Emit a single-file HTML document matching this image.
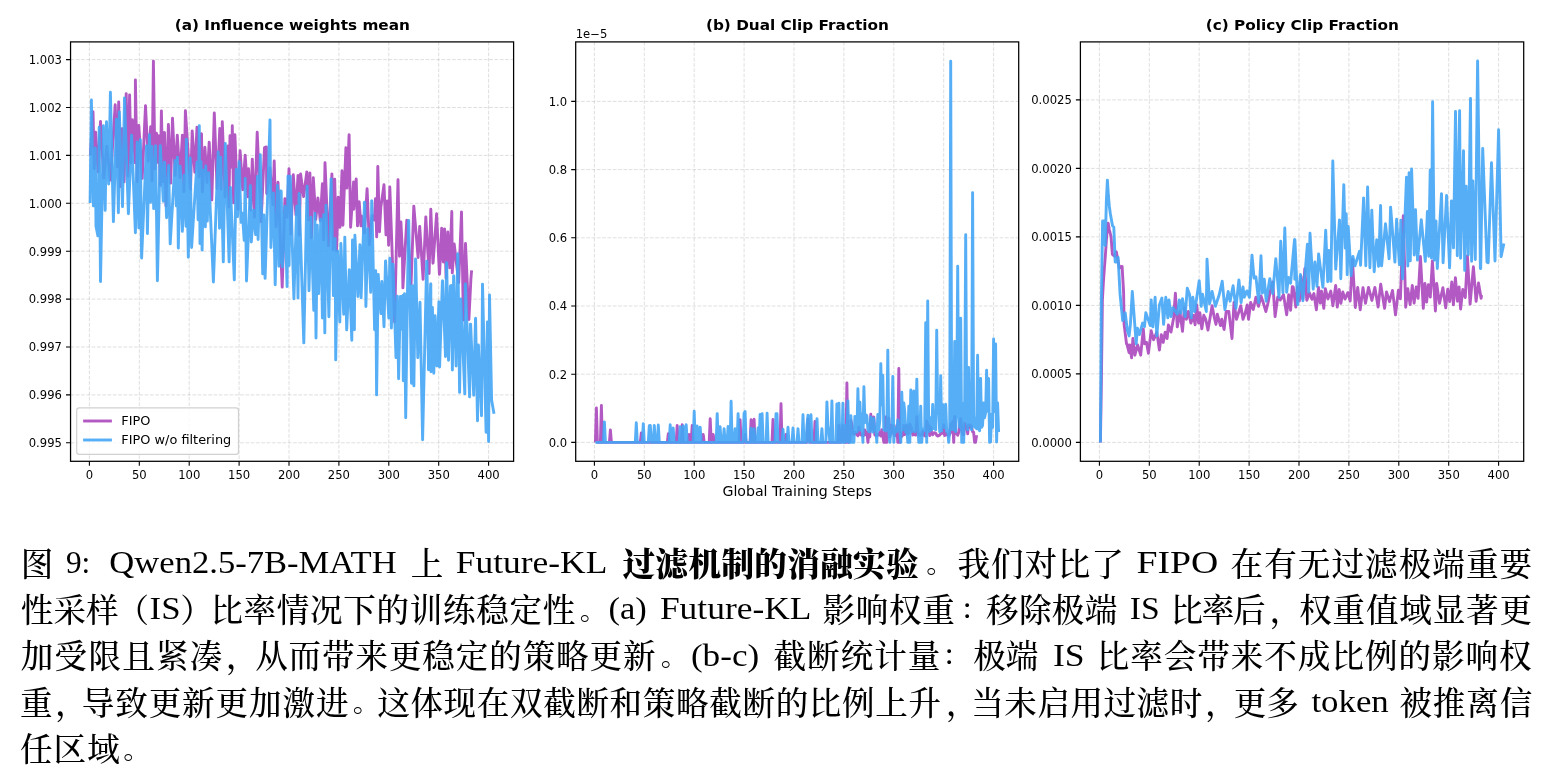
<!DOCTYPE html>
<html lang="zh-CN"><head><meta charset="utf-8"><title>Figure 9</title>
<style>
html,body{margin:0;padding:0;background:#fff;}
body{width:1554px;height:782px;position:relative;overflow:hidden;}
</style></head><body>
<svg width="1554" height="500" viewBox="0 0 1554 500" style="position:absolute;left:0;top:0">
<g font-family="'DejaVu Sans', 'Liberation Sans', sans-serif" font-size="11.6" fill="#000">
<path d="M89.4 41.9V461.3M139.3 41.9V461.3M189.2 41.9V461.3M239.1 41.9V461.3M289 41.9V461.3M338.9 41.9V461.3M388.8 41.9V461.3M438.7 41.9V461.3M488.6 41.9V461.3M70.5 59.6H513.6M70.5 107.5H513.6M70.5 155.4H513.6M70.5 203.3H513.6M70.5 251.2H513.6M70.5 299.1H513.6M70.5 347H513.6M70.5 394.9H513.6M70.5 442.8H513.6" stroke="#b0b0b0" stroke-opacity="0.4" stroke-width="1" stroke-dasharray="3.7 1.6" fill="none"/>
<clipPath id="c0"><rect x="70.5" y="41.9" width="443.1" height="419.4"/></clipPath>
<g clip-path="url(#c0)">
<polyline points="90.4,155.3 93,111.6 94.3,168.6 95.6,132.2 98.1,171.8 100.5,121.5 103.8,178.1 106.8,146.2 110.4,180.1 115.2,104.8 117.2,166.9 118.7,101.9 120.2,186.5 122,128.6 124.1,181.9 126.2,93.6 127.9,176.2 129.6,94.9 131,162.7 132.3,119.6 135.2,162.7 135.4,80 137.2,181.5 138.8,125.4 142.2,178.4 145.5,105.7 148.2,161.2 150.7,126.7 152,180.7 153.4,61.1 155,169 156.5,133.1 157.7,162.2 159,135.7 160.2,185.2 161.4,110.9 162.9,181.8 164.5,132.5 166,205.7 168.4,124.5 170.7,183.1 172.5,118.3 175.2,175.4 177.3,135.3 180,177.6 182.4,135.1 183.9,191.6 185.4,110.6 190.5,189.1 192.2,130.9 194.8,172.2 197,127.1 199,177 201.5,133.8 202.4,191.7 204.9,147.2 207,182.3 209.2,142.1 211.8,200 214.3,112.9 217.1,188.5 219.8,128.4 221.1,189.1 222.3,121.7 225.1,197 227.8,146 228.9,207.1 230,135.7 231.7,167.2 232.3,125.8 233.6,202.9 234.9,134.8 237.8,209.2 240.1,150.8 242.7,189.7 245.2,155.2 247.8,196.8 248.5,168.7 250.7,210.2 252.3,159.1 254.5,217.2 257.2,132.2 261.1,221.6 264.5,147.7 266.4,146.9 266.7,193.6 269.9,167.7 272.9,204.5 274.2,161 276,226.7 278,182.2 282.2,287.1 284.9,198.6 287,217.2 289,168.8 290.9,234.1 293.3,174.8 295.9,214.9 298,175.5 299.3,235.1 300.6,173.9 303.6,196.5 306.8,171.9 308.3,220.1 309.9,172.9 311.4,237.7 313.3,177.6 315.8,219.4 317.9,198 320.3,220.7 322.4,183.8 323.7,239.9 325,162.6 328.4,245.6 331.9,173.9 333.3,249.7 334.7,179.1 336.5,251.1 338.2,197.1 340,227.3 342,170.7 342.9,225.3 345.9,147.8 346.9,188.1 349.1,134.7 350.6,227.2 353.6,181.9 353.8,209.2 356.2,178.9 357.5,225.9 359.2,201.8 360.9,225.9 361.5,216 364.4,233 367.1,188.7 369.4,244.7 372.1,215.8 374.4,220.1 375.5,198.6 376.7,236.9 377.8,166.4 379.5,231.7 380.8,207.4 384,184.7 386,234.9 387.3,201 388.6,245.2 389.8,187 394.6,322 398,179.7 399.5,256.2 400.9,222 402.4,251.7 402.9,287.9 406.8,220.2 411.1,283.8 413.8,206.1 418.1,257.5 419.7,226.4 423.1,279.3 425.8,216.9 429.1,273.5 430.8,209.2 432.9,263.2 433.1,262.8 436.6,213.8 439.4,274.2 439.6,273.7 441.7,228.1 443.3,262 444.6,229 446.1,278.2 447.8,231.9 449.7,267.8 451.8,211.5 452.3,272.9 454.2,243.9 458.7,282.6 461.5,211.9 463.4,320 465.5,243.5 468.9,319.5 470.9,279 471.6,270.4" fill="none" stroke="#AB47BC" stroke-width="2.9" stroke-linejoin="round" stroke-opacity="0.9"/>
<polyline points="90.1,203.1 91.4,100 93.4,205.9 95.3,147.9 96,226.3 97.9,235.9 99.2,127.2 100.5,281.6 103.4,125.8 105.2,210.4 106.5,121.7 108.7,184 110.4,92.3 113.4,221.6 116.5,119.1 118.4,212.8 119.3,111.9 122.5,206.6 124.5,98 128.4,213.8 131.6,135.3 135.4,232.7 137.2,142.1 138.8,227.9 140.3,139.7 141.6,258.1 146.5,145.7 147.4,233.6 149.4,134.8 150.6,202.4 151.9,146.4 153.7,208.6 155.6,145.7 157.4,280.7 160.3,145.7 163.3,201.2 164.5,162.3 166.6,217.8 168.6,165.5 170.2,243.9 175.1,160.4 176.3,205.9 177.4,157.1 178.3,248.1 180.2,166.1 182.4,231.4 184,175.3 186,226.3 186.4,139.3 188.3,257.2 190.2,157.9 191.6,247.5 197,162.3 198.1,219.8 199.3,125.8 200,243.6 201,161.8 202.1,250.1 203.5,170.1 205.4,226.9 205.7,165.9 207.3,221.1 208.6,172.6 213.4,282 218.2,152 219.5,228.2 220.7,157.1 223.3,261.9 225.3,143.5 229.1,261.9 230.4,187.4 234.3,279.9 236.2,169.4 237.5,216.6 239.2,161.6 241,222.4 242.4,213.3 244.2,240.4 245.2,178.4 246.5,281 250.4,185.5 251.3,242 253.6,210.3 255.6,234.6 257.5,176.4 258.1,239.5 260.3,154.8 262.7,273.9 263.9,214.9 265.1,278.4 270,120 270.9,247.5 273.4,192.9 275.2,284.8 277.4,185.5 278.9,266.3 280.6,190.9 280.9,262.3 281.2,191.2 282.5,266.8 284.8,206.2 287.1,286.6 288,176.1 289.1,265.6 290.3,176.1 293.9,298.8 296.7,206.3 298,298.1 299.1,193.5 303.8,342.9 307.1,186.1 309,290.8 310.9,217.3 313.8,310.4 314.9,213.4 316,338 317.3,225.1 318.6,293.6 320.8,219 322.4,318.1 323.7,214.7 324.8,332.9 326,205.3 328.9,316.8 331.1,178.9 333.4,295.6 335.1,238.4 335.7,359.9 337.6,251.1 339.8,322 340.9,243.5 343.7,314.2 344.8,237.1 346.7,329.9 349.3,269.6 351.8,340.2 352.5,240 354.4,329.7 354.9,235.2 357.9,296.5 359.9,244.8 361.1,297.8 364.5,202.2 364.7,202.3 365.9,306.5 367.9,228.7 370.7,292.4 371.7,200.8 371.8,200.7 374.6,329.7 375.7,270.6 376.6,394.9 378.2,274.4 381,313.6 381.9,281.5 384,326.8 385.5,261.1 385.6,260.9 388.8,318.1 389.8,258.3 390.1,258.9 391.4,328 392.8,264.1 393,264.3 396,357.6 397.3,296.3 398.6,378.8 400.4,296.4 401.6,329.4 402.9,295.4 403.3,380.8 404.5,293.8 405.7,417.8 408.5,221.3 408.7,220.5 411.5,383.3 412.7,285.8 413.9,385.9 415.5,259 415.7,259.4 417.8,357.6 420,302.2 422.6,439.7 426.7,261.1 426.9,261.5 428.5,369.7 430.6,284.2 430.8,283.8 431,371.8 432.4,307.5 433.8,373.3 435.1,315.8 436.9,366 438.9,301.6 439.6,367 442.4,281.3 442.6,280.8 445.5,356.6 446.5,262.6 446.7,263 448.5,360.3 450.4,286 451.2,285.5 452.4,370.1 453.6,276.1 453.8,275.9 456.1,366 457.7,253.8 457.9,254 459.6,392.4 460.9,299 464.8,393.9 465.3,284.2 465.5,283.8 469.6,396.9 470.4,324.1 470.6,324.1 473.7,395.2 475.5,318.5 475.6,318.3 477.5,420.7 478.4,345 481.5,415.8 482.5,284.1 486.1,432.3 487.4,322 488.6,441.5 489.5,295 491.6,400 494,413.7" fill="none" stroke="#42A5F5" stroke-width="2.9" stroke-linejoin="round" stroke-opacity="0.9"/>
</g>
<path d="M89.4 461.3v4.5M139.3 461.3v4.5M189.2 461.3v4.5M239.1 461.3v4.5M289 461.3v4.5M338.9 461.3v4.5M388.8 461.3v4.5M438.7 461.3v4.5M488.6 461.3v4.5M70.5 59.6h-4.5M70.5 107.5h-4.5M70.5 155.4h-4.5M70.5 203.3h-4.5M70.5 251.2h-4.5M70.5 299.1h-4.5M70.5 347h-4.5M70.5 394.9h-4.5M70.5 442.8h-4.5" stroke="#000" stroke-width="1.1" fill="none"/>
<rect x="70.55" y="41.9" width="443.05" height="419.4" fill="none" stroke="#000" stroke-width="1.25"/>
<text x="89.4" y="478.8" text-anchor="middle">0</text>
<text x="139.3" y="478.8" text-anchor="middle">50</text>
<text x="189.2" y="478.8" text-anchor="middle">100</text>
<text x="239.1" y="478.8" text-anchor="middle">150</text>
<text x="289" y="478.8" text-anchor="middle">200</text>
<text x="338.9" y="478.8" text-anchor="middle">250</text>
<text x="388.8" y="478.8" text-anchor="middle">300</text>
<text x="438.7" y="478.8" text-anchor="middle">350</text>
<text x="488.6" y="478.8" text-anchor="middle">400</text>
<text x="61.9" y="63.9" text-anchor="end">1.003</text>
<text x="61.9" y="111.8" text-anchor="end">1.002</text>
<text x="61.9" y="159.7" text-anchor="end">1.001</text>
<text x="61.9" y="207.6" text-anchor="end">1.000</text>
<text x="61.9" y="255.5" text-anchor="end">0.999</text>
<text x="61.9" y="303.4" text-anchor="end">0.998</text>
<text x="61.9" y="351.3" text-anchor="end">0.997</text>
<text x="61.9" y="399.2" text-anchor="end">0.996</text>
<text x="61.9" y="447.1" text-anchor="end">0.995</text>
<text transform="translate(292.3 29.8) scale(1.093 1)" text-anchor="middle" font-weight="bold" font-size="14">(a) Influence weights mean</text>
<path d="M594.4 41.9V461.3M644.3 41.9V461.3M694.2 41.9V461.3M744.1 41.9V461.3M794 41.9V461.3M843.9 41.9V461.3M893.8 41.9V461.3M943.7 41.9V461.3M993.6 41.9V461.3M575.7 442.4H1018.7M575.7 374.2H1018.7M575.7 306H1018.7M575.7 237.8H1018.7M575.7 169.6H1018.7M575.7 101.4H1018.7" stroke="#b0b0b0" stroke-opacity="0.4" stroke-width="1" stroke-dasharray="3.7 1.6" fill="none"/>
<clipPath id="c1"><rect x="575.7" y="41.9" width="443" height="419.4"/></clipPath>
<g clip-path="url(#c1)">
<polyline points="595.4,442.4 596.4,408 597.4,442.4 598.4,442.4 599.4,442.4 600.4,442.4 601.4,405.5 602.4,442.4 603.4,442.4 604.4,442.4 605.4,442.4 606.4,442.4 607.4,442.4 608.4,442.4 609.4,442.4 610.4,429.9 611.4,442.4 612.4,442.4 613.4,442.4 614.4,442.4 615.4,442.4 616.4,442.4 617.4,442.4 618.4,442.4 619.4,442.4 620.3,442.4 621.3,442.4 622.3,442.4 623.3,442.4 624.3,442.4 625.3,442.4 626.3,442.4 627.3,442.4 628.3,442.4 629.3,442.4 630.3,442.4 631.3,442.4 632.3,442.4 633.3,442.4 634.3,442.4 635.3,442.4 636.3,442.4 637.3,442.4 638.3,442.4 639.3,442.4 640.3,442.4 641.3,432.9 642.3,442.4 643.3,442.4 644.3,442.4 645.3,442.4 646.3,442.4 647.3,442.4 648.3,442.4 649.3,442.4 650.3,442.4 651.3,442.4 652.3,442.4 653.3,442.4 654.3,442.4 655.3,442.4 656.3,442.4 657.3,442.4 658.3,442.4 659.3,442.4 660.3,442.4 661.3,442.4 662.3,442.4 663.3,442.4 664.3,442.4 665.3,442.4 666.3,442.4 667.3,442.4 668.3,433.8 669.2,442.4 670.2,442.4 671.2,442.4 672.2,442.4 673.2,442.4 674.2,442.4 675.2,442.4 676.2,442.4 677.2,425.4 678.2,442.4 679.2,442.4 680.2,442.4 681.2,442.4 682.2,424.8 683.2,442.4 684.2,442.4 685.2,442.4 686.2,442.4 687.2,442.4 688.2,442.4 689.2,434.4 690.2,442.4 691.2,442.4 692.2,425.4 693.2,442.4 694.2,442.4 695.2,442.4 696.2,442.4 697.2,442.4 698.2,442.4 699.2,442.4 700.2,442.4 701.2,442.4 702.2,442.4 703.2,434.4 704.2,442.4 705.2,442.4 706.2,442.4 707.2,442.4 708.2,442.4 709.2,442.4 710.2,418.6 711.2,442.4 712.2,442.4 713.2,434.4 714.2,442.4 715.2,442.4 716.2,442.4 717.2,442.4 718.2,442.4 719.1,442.4 720.1,442.4 721.1,442.4 722.1,442.4 723.1,442.4 724.1,442.4 725.1,442.4 726.1,442.4 727.1,442.4 728.1,442.4 729.1,442.4 730.1,442.4 731.1,442.4 732.1,442.4 733.1,442.4 734.1,442.4 735.1,442.4 736.1,442.4 737.1,442.4 738.1,442.4 739.1,442.4 740.1,419.6 741.1,442.4 742.1,442.4 743.1,442.4 744.1,442.4 745.1,434.4 746.1,442.4 747.1,442.4 748.1,442.4 749.1,442.4 750.1,442.4 751.1,419.6 752.1,442.4 753.1,442.4 754.1,419.2 755.1,442.4 756.1,442.4 757.1,442.4 758.1,442.4 759.1,442.4 760.1,442.4 761.1,442.4 762.1,442.4 763.1,442.4 764.1,442.4 765.1,442.4 766.1,442.4 767.1,442.4 768.1,442.4 769,442.4 770,442.4 771,442.4 772,442.4 773,419.4 774,442.4 775,442.4 776,442.4 777,442.4 778,442.4 779,442.4 780,442.4 781,403.8 782,442.4 783,442.4 784,442.4 785,442.4 786,434.4 787,442.4 788,442.4 789,442.4 790,442.4 791,442.4 792,442.4 793,442.4 794,442.4 795,442.4 796,442.4 797,442.4 798,442.4 799,442.4 800,442.4 801,442.4 802,442.4 803,442.4 804,442.4 805,442.4 806,442.4 807,442.4 808,419 809,425.3 810,442.4 811,442.4 812,442.4 813,442.4 814,442.4 815,421.5 816,442.4 817,442.4 818,442.4 819,442.4 819.9,442.4 820.9,442.4 821.9,442.4 822.9,442.4 823.9,442.4 824.9,442.4 825.9,442.4 826.9,442.4 827.9,442.4 828.9,442.4 829.9,442.4 830.9,442.4 831.9,442.4 832.9,442.4 833.9,442.4 834.9,442.4 835.9,442.4 836.9,442.4 837.9,442.4 838.9,425.3 839.9,442.4 840.9,442.4 841.9,431.2 842.9,425.3 843.9,442.4 844.9,442.4 845.9,442.4 846.9,382.9 847.9,442.4 848.9,442.4 849.9,441.4 850.9,420.2 851.9,425.3 852.9,433.7 853.9,434.3 854.9,432.2 855.9,433.6 856.9,434.7 857.9,435.7 858.9,426.9 859.9,434.2 860.9,434.9 861.9,433.8 862.9,436.1 863.9,434.6 864.9,430 865.9,434.7 866.9,432.2 867.9,442.4 868.8,434.4 869.8,437 870.8,414.2 871.8,429.3 872.8,427.5 873.8,417 874.8,434.8 875.8,435.6 876.8,435 877.8,435.2 878.8,434.6 879.8,432.2 880.8,436.1 881.8,429.7 882.8,435.8 883.8,442.4 884.8,442.4 885.8,416.9 886.8,442.4 887.8,429.4 888.8,417.9 889.8,436.7 890.8,432.9 891.8,425.3 892.8,426.2 893.8,434.1 894.8,435.5 895.8,435.6 896.8,425.5 897.8,442.4 898.8,368.5 899.8,442.4 900.8,433.5 901.8,436.5 902.8,434.9 903.8,425.4 904.8,434.5 905.8,433 906.8,425.3 907.8,434.2 908.8,433 909.8,424 910.8,426.1 911.8,429 912.8,435 913.8,432.5 914.8,434.6 915.8,435.1 916.8,416.8 917.8,433.1 918.8,433.4 919.7,435.3 920.7,435.3 921.7,434.9 922.7,431.2 923.7,433.7 924.7,435.9 925.7,436 926.7,420.9 927.7,424.5 928.7,424.8 929.7,435.6 930.7,427.3 931.7,432.8 932.7,434.7 933.7,433 934.7,432.7 935.7,433.2 936.7,435.3 937.7,436 938.7,435.7 939.7,435.1 940.7,433.7 941.7,433.4 942.7,433.3 943.7,424.7 944.7,435.5 945.7,433 946.7,434.7 947.7,434.6 948.7,435.8 949.7,434.2 950.7,423.9 951.7,432.4 952.7,421.5 953.7,442.4 954.7,416.4 955.7,433 956.7,433.8 957.7,435.3 958.7,432.5 959.7,425.1 960.7,418.6 961.7,428.7 962.7,434.6 963.7,434.5 964.7,423.1 965.7,427.6 966.7,426.8 967.7,433.7 968.6,424.9 969.6,427.3 970.6,425 971.6,427.1 972.6,431.8 973.6,432.2 974.6,442.4 975.6,442.4 976.6,435.1" fill="none" stroke="#AB47BC" stroke-width="2.9" stroke-linejoin="round" stroke-opacity="0.9"/>
<polyline points="595.4,442.4 596.4,442.4 597.4,442.4 598.4,442.4 599.4,442.4 600.4,442.4 601.4,442.4 602.4,442.4 603.4,442.4 604.4,421.9 605.4,442.4 606.4,442.4 607.4,442.4 608.4,442.4 609.4,442.4 610.4,442.4 611.4,442.4 612.4,442.4 613.4,442.4 614.4,442.4 615.4,442.4 616.4,442.4 617.4,442.4 618.4,442.4 619.4,442.4 620.3,442.4 621.3,442.4 622.3,442.4 623.3,442.4 624.3,442.4 625.3,442.4 626.3,442.4 627.3,442.4 628.3,442.4 629.3,442.4 630.3,442.4 631.3,442.4 632.3,442.4 633.3,442.4 634.3,442.4 635.3,442.4 636.3,422.8 637.3,442.4 638.3,442.4 639.3,442.4 640.3,442.4 641.3,442.4 642.3,442.4 643.3,423.7 644.3,442.4 645.3,442.4 646.3,442.4 647.3,442.4 648.3,442.4 649.3,425.7 650.3,425.4 651.3,442.4 652.3,442.4 653.3,442.4 654.3,425.4 655.3,442.4 656.3,442.4 657.3,442.4 658.3,425 659.3,442.4 660.3,442.4 661.3,442.4 662.3,442.4 663.3,442.4 664.3,442.4 665.3,442.4 666.3,442.4 667.3,442.4 668.3,442.4 669.2,442.4 670.2,424.8 671.2,442.4 672.2,442.4 673.2,428 674.2,442.4 675.2,442.4 676.2,442.4 677.2,442.4 678.2,442.4 679.2,442.4 680.2,426.7 681.2,442.4 682.2,442.4 683.2,426 684.2,442.4 685.2,442.4 686.2,424.8 687.2,442.4 688.2,442.4 689.2,442.4 690.2,442.4 691.2,442.4 692.2,442.4 693.2,442.4 694.2,411.2 695.2,442.4 696.2,442.4 697.2,426 698.2,442.4 699.2,442.4 700.2,427.3 701.2,442.4 702.2,442.4 703.2,442.4 704.2,442.4 705.2,442.4 706.2,442.4 707.2,442.4 708.2,442.4 709.2,442.4 710.2,442.4 711.2,442.4 712.2,442.4 713.2,442.4 714.2,442.4 715.2,442.4 716.2,442.4 717.2,413.6 718.2,442.4 719.1,442.4 720.1,426.7 721.1,442.4 722.1,442.4 723.1,442.4 724.1,428.6 725.1,442.4 726.1,442.4 727.1,442.4 728.1,426.4 729.1,442.4 730.1,442.4 731.1,401.2 732.1,442.4 733.1,442.4 734.1,442.4 735.1,428.6 736.1,442.4 737.1,442.4 738.1,413.6 739.1,442.4 740.1,442.4 741.1,442.4 742.1,442.4 743.1,442.4 744.1,413.2 745.1,411.6 746.1,442.4 747.1,442.4 748.1,442.4 749.1,442.4 750.1,442.4 751.1,428.2 752.1,442.4 753.1,442.4 754.1,428.6 755.1,442.4 756.1,442.4 757.1,442.4 758.1,428 759.1,442.4 760.1,414.5 761.1,442.4 762.1,413.6 763.1,442.4 764.1,442.4 765.1,442.4 766.1,442.4 767.1,413.2 768.1,442.4 769,442.4 770,442.4 771,442.4 772,442.4 773,442.4 774,442.4 775,442.4 776,413.8 777,413.8 778,442.4 779,442.4 780,442.4 781,442.4 782,442.4 783,429.3 784,442.4 785,442.4 786,442.4 787,442.4 788,427.3 789,442.4 790,442.4 791,442.4 792,442.4 793,428 794,442.4 795,442.4 796,442.4 797,442.4 798,428.6 799,442.4 800,442.4 801,442.4 802,442.4 803,414.7 804,442.4 805,442.4 806,442.4 807,425.3 808,415.1 809,442.4 810,425.3 811,414.7 812,442.4 813,442.4 814,442.4 815,442.4 816,442.4 817,418.6 818,442.4 819,442.4 819.9,442.4 820.9,442.4 821.9,428.6 822.9,442.4 823.9,442.4 824.9,442.4 825.9,442.4 826.9,401.9 827.9,425.3 828.9,432.2 829.9,442.4 830.9,442.4 831.9,400.9 832.9,442.4 833.9,442.4 834.9,442.4 835.9,442.4 836.9,403.9 837.9,442.4 838.9,403.1 839.9,442.4 840.9,442.4 841.9,442.4 842.9,403.1 843.9,442.4 844.9,442.4 845.9,425.3 846.9,441.5 847.9,400.9 848.9,442.4 849.9,442.4 850.9,415.8 851.9,442.4 852.9,431.9 853.9,442.4 854.9,416.4 855.9,428.9 856.9,432.1 857.9,388.7 858.9,430 859.9,402.2 860.9,430.2 861.9,414.3 862.9,442.4 863.9,386.8 864.9,422.5 865.9,414.6 866.9,415.8 867.9,429.8 868.8,431.6 869.8,431.8 870.8,417 871.8,428.6 872.8,432.1 873.8,418.1 874.8,430.2 875.8,427.8 876.8,442.4 877.8,414.5 878.8,429.9 879.8,420.7 880.8,363.6 881.8,404.9 882.8,375.2 883.8,429.9 884.8,429.4 885.8,431 886.8,428.6 887.8,350.2 888.8,432 889.8,442.4 890.8,431.5 891.8,429.5 892.8,376.5 893.8,442.4 894.8,428.2 895.8,428.6 896.8,431.7 897.8,419.9 898.8,427.8 899.8,431.3 900.8,442.4 901.8,392.3 902.8,430 903.8,402.9 904.8,412.3 905.8,432.1 906.8,428.1 907.8,442.4 908.8,406.1 909.8,442.4 910.8,390 911.8,431.6 912.8,403.6 913.8,391 914.8,431.7 915.8,429 916.8,379.1 917.8,428.4 918.8,442.4 919.7,442.4 920.7,406.1 921.7,442.4 922.7,428.9 923.7,431 924.7,429 925.7,322.8 926.7,442.4 927.7,300.9 928.7,431.3 929.7,431.1 930.7,417.7 931.7,429.9 932.7,404.4 933.7,428.6 934.7,412.7 935.7,429.9 936.7,330.2 937.7,412.6 938.7,412.7 939.7,431.6 940.7,375.6 941.7,430.9 942.7,404.8 943.7,412.2 944.7,427.7 945.7,404.2 946.7,431.6 947.7,430.7 948.7,442.4 949.7,429.8 950.7,61.1 951.7,429.5 952.7,412.8 953.7,429.8 954.7,341.4 955.7,431.7 956.7,402.9 957.7,266.2 958.7,411.2 959.7,427.4 960.7,318.3 961.7,442.4 962.7,403.1 963.7,442.4 964.7,402.2 965.7,234.6 966.7,412 967.7,429.8 968.6,367.5 969.6,425.3 970.6,418.3 971.6,429.8 972.6,192.6 973.6,415.1 974.6,427.1 975.6,427.4 976.6,428.6 977.6,355.3 978.6,429.3 979.6,430.8 980.6,378.4 981.6,427.4 982.6,425.3 983.6,402.9 984.6,417.7 985.6,412.7 986.6,370.2 987.6,411 988.6,378.4 989.6,442.4 990.6,442 991.6,414.1 992.6,427.5 993.6,338.9 994.6,411.6 995.6,344 996.6,442 997.6,403 998.6,432" fill="none" stroke="#42A5F5" stroke-width="2.9" stroke-linejoin="round" stroke-opacity="0.9"/>
</g>
<path d="M594.4 461.3v4.5M644.3 461.3v4.5M694.2 461.3v4.5M744.1 461.3v4.5M794 461.3v4.5M843.9 461.3v4.5M893.8 461.3v4.5M943.7 461.3v4.5M993.6 461.3v4.5M575.7 442.4h-4.5M575.7 374.2h-4.5M575.7 306h-4.5M575.7 237.8h-4.5M575.7 169.6h-4.5M575.7 101.4h-4.5" stroke="#000" stroke-width="1.1" fill="none"/>
<rect x="575.7" y="41.9" width="443" height="419.4" fill="none" stroke="#000" stroke-width="1.25"/>
<text x="594.4" y="478.8" text-anchor="middle">0</text>
<text x="644.3" y="478.8" text-anchor="middle">50</text>
<text x="694.2" y="478.8" text-anchor="middle">100</text>
<text x="744.1" y="478.8" text-anchor="middle">150</text>
<text x="794" y="478.8" text-anchor="middle">200</text>
<text x="843.9" y="478.8" text-anchor="middle">250</text>
<text x="893.8" y="478.8" text-anchor="middle">300</text>
<text x="943.7" y="478.8" text-anchor="middle">350</text>
<text x="993.6" y="478.8" text-anchor="middle">400</text>
<text x="567.1" y="446.7" text-anchor="end">0.0</text>
<text x="567.1" y="378.5" text-anchor="end">0.2</text>
<text x="567.1" y="310.3" text-anchor="end">0.4</text>
<text x="567.1" y="242.1" text-anchor="end">0.6</text>
<text x="567.1" y="173.9" text-anchor="end">0.8</text>
<text x="567.1" y="105.7" text-anchor="end">1.0</text>
<text transform="translate(797.4 29.8) scale(1.093 1)" text-anchor="middle" font-weight="bold" font-size="14">(b) Dual Clip Fraction</text>
<path d="M1099.4 41.9V461.3M1149.3 41.9V461.3M1199.2 41.9V461.3M1249.1 41.9V461.3M1299 41.9V461.3M1348.9 41.9V461.3M1398.8 41.9V461.3M1448.7 41.9V461.3M1498.6 41.9V461.3M1080.4 442.4H1523.7M1080.4 373.9H1523.7M1080.4 305.4H1523.7M1080.4 236.9H1523.7M1080.4 168.4H1523.7M1080.4 99.9H1523.7" stroke="#b0b0b0" stroke-opacity="0.4" stroke-width="1" stroke-dasharray="3.7 1.6" fill="none"/>
<clipPath id="c2"><rect x="1080.4" y="41.9" width="443.3" height="419.4"/></clipPath>
<g clip-path="url(#c2)">
<polyline points="1100.4,442.4 1101.4,380 1102.4,300 1103.4,282 1104.4,268 1105.4,255 1106.4,240 1107.4,228 1108.2,223.2 1109.4,230 1111,236.5 1112.4,254.4 1114.4,256 1116.3,251.8 1119.4,268 1121.4,266.4 1122.1,266.4 1123.6,292.2 1124.1,324.4 1126.5,343.7 1126.8,343.7 1129.1,352.7 1129.4,352.7 1129.7,344.9 1131.6,357.8 1132.9,338.5 1134.9,355.2 1137.6,345 1140.7,355.2 1143.3,328.9 1144.5,343.7 1146.5,342.4 1148.4,353.3 1151.2,330.8 1153.6,339.8 1156.8,332.1 1159.4,350.1 1161.3,334.6 1163.2,342.4 1165.2,332.1 1167.1,338.5 1168.4,325 1171,332.1 1173.6,317.9 1175.4,293.2 1177.3,326.9 1179.9,311.5 1182.5,331.4 1184.4,307.6 1186.4,319.2 1188.3,311.5 1190.9,323.1 1193.4,315.3 1195.1,324.7 1196.7,305 1198.6,323.1 1199.9,312.8 1201.8,328.9 1203.8,315.3 1205.7,319.2 1208,330.1 1212.1,305.7 1214.1,316.6 1216,324.4 1217.3,314.1 1220.5,325.6 1221.8,319.2 1224.1,329.5 1226.2,311.5 1228.8,311.5 1232,338.5 1234,302.5 1236.5,319.2 1240.8,305.7 1243,319.2 1244.9,314.1 1247.2,305 1248.5,319.2 1250.7,302.5 1253.3,309.5 1255.9,297.3 1258.5,306.3 1261,296 1263.6,303.8 1265.9,311.5 1268.1,302.5 1270.1,292.2 1272.7,281.9 1275.1,316.6 1277.7,297.3 1280.3,299.9 1283.5,294.7 1286.7,314.7 1288.7,294.7 1290.6,310.2 1292.3,286.7 1293.2,287 1295.8,307.1 1297.3,287 1299.4,300.9 1300.9,276.4 1302.8,298.8 1304.8,268.7 1306.8,300.2 1309.5,293.1 1311.9,299.3 1313.9,293.5 1316.4,309.7 1318.5,287.5 1320.3,303.1 1321.6,291.2 1323.8,308.4 1325.3,288.7 1327.9,299 1330.8,291 1332.9,305.8 1335.7,285.5 1337.3,307.1 1339.2,289.5 1340.9,303.2 1342.8,291.9 1345,299.1 1347.8,292.7 1350.2,301 1352.4,259.1 1355.3,307.5 1357.7,287.4 1360.2,309.7 1363,287.7 1365.5,303.3 1368.5,287.4 1371.9,300.4 1374.9,287.4 1378.1,307 1380.7,284.2 1384.6,308.4 1386.5,291.9 1389.5,301.7 1392.5,290.4 1395.5,314.8 1398.4,290.3 1400.4,298.8 1403.3,215.7 1405.7,307.2 1407.8,288.7 1410.1,304.6 1412.3,285.5 1414.1,303 1416.3,286.9 1418.1,298.4 1420.4,256.5 1423.3,308.4 1424.9,283.4 1426.6,302.1 1428.3,284.8 1430.3,297.1 1432.4,261 1435.4,311 1436.7,283.5 1439.5,303.4 1442.9,287.7 1445.7,307.8 1447.7,289.3 1449.7,301.6 1451.8,281.9 1453.4,304.9 1455.4,277.7 1457.4,301.2 1459.1,286.9 1460.6,309 1462.8,289.5 1465.3,297.5 1467.4,255.9 1470.1,304.1 1473.4,266.8 1476.1,301.3 1478.5,282.9 1481.1,298.2 1481.6,295" fill="none" stroke="#AB47BC" stroke-width="2.9" stroke-linejoin="round" stroke-opacity="0.9"/>
<polyline points="1100.4,442.4 1101.4,300 1102.6,221 1104,221 1105.2,245.5 1106.4,200 1107.4,180.1 1108.4,196 1109.4,207 1110.4,214 1111.4,219.7 1112.6,226 1113.8,227 1115.2,262 1116.6,262 1118.1,257.4 1120.1,294.7 1122.7,320.5 1125.2,312.8 1127.3,330 1129.1,335.9 1130.4,324.4 1132.3,291.5 1136.2,343.7 1137.4,328.2 1139.4,334.6 1142.6,323.1 1144.5,326.5 1145.8,312.8 1150.3,325.6 1151.2,299.9 1152.9,326.9 1155.1,297.3 1156.8,335.9 1159.4,305 1161.9,298 1163.6,324.4 1165.8,297.3 1167.8,317.9 1169,299.9 1171,316.6 1172.9,307.6 1177.3,314.1 1179.3,299.9 1180.7,313.1 1182.5,298.6 1185.1,316.6 1187.3,288.3 1189.6,294.7 1191.3,317.9 1192.8,297.3 1194.7,311.5 1199.2,280.6 1201.2,306.3 1202.5,294.1 1206.3,311.5 1207,259.2 1209.6,303.8 1212.1,291.5 1215.4,306.3 1219.2,294.7 1222.2,281.2 1224.9,309.5 1228.2,291.5 1230.1,301.2 1233.1,285.7 1235.9,308.3 1238.9,279.9 1241.1,302.5 1243,287 1244.3,297.3 1246.9,290.9 1249.4,297.3 1252,255.1 1254,278 1255.9,276.7 1258.7,302.5 1261,255.7 1262.4,293.1 1264.3,279.3 1266.2,301.2 1269.8,278.7 1272.7,293.5 1275.8,258.7 1279,297.3 1280.7,241.2 1282.9,292.6 1284.8,228 1286.7,292.2 1288.4,277.4 1290.6,283.2 1294.5,239.6 1294.8,279.3 1294.9,239.8 1297.7,304.5 1300.5,274.5 1302.9,300.7 1307.4,244.3 1308.7,292.1 1310,233.3 1313.2,289.1 1314.9,262 1317,286.3 1318.6,253.9 1322.9,287.2 1325.7,230.2 1327.7,281.7 1328.9,250.4 1330.9,281.4 1332.8,161 1335.7,269.1 1339.5,219.9 1340.8,278.8 1343.8,184.8 1345.3,248.1 1346.2,213.8 1347.2,274.8 1348.2,226.4 1351.1,275.6 1352.9,256.4 1355,265.9 1359.5,251.3 1360.6,265.3 1363.6,197.9 1365.8,265.7 1367.6,187 1369.9,267.7 1371.8,210.2 1374.2,271.7 1376.7,239.8 1378.6,266.3 1380.6,205.4 1381.6,265.9 1385.5,223.8 1389.1,258.8 1390.6,207.1 1394.9,262.1 1396.6,219.3 1399.4,264.6 1400.9,220.1 1402.6,278.8 1406.5,177.1 1407.8,266.1 1409.1,172.8 1410.3,260.9 1411.6,169 1414.2,255 1415.5,209.6 1417.5,260.1 1421.3,219.6 1425.3,261.4 1427.4,211.5 1428.7,256.3 1430.2,170 1431.4,258.1 1432.6,101.7 1434.3,260.3 1436,220.9 1437.3,268.5 1441.5,193.6 1443.1,262.7 1446.6,195.4 1449.6,267.9 1451.5,200.9 1453.5,247.9 1455.5,111.4 1457.3,255.8 1459.6,110.8 1460.6,258.2 1463.5,150.7 1464.7,270.4 1466.1,186.1 1468.3,254.8 1470.5,98.5 1471.6,261.3 1472.8,180.9 1475.3,259.5 1477.6,60.9 1480.4,268.5 1480.7,268.6 1482.7,148.4 1487,262.1 1488.2,262.7 1491.5,162.7 1495,261 1498.6,129.8 1501.1,256.6 1503.9,243.5" fill="none" stroke="#42A5F5" stroke-width="2.9" stroke-linejoin="round" stroke-opacity="0.9"/>
</g>
<path d="M1099.4 461.3v4.5M1149.3 461.3v4.5M1199.2 461.3v4.5M1249.1 461.3v4.5M1299 461.3v4.5M1348.9 461.3v4.5M1398.8 461.3v4.5M1448.7 461.3v4.5M1498.6 461.3v4.5M1080.4 442.4h-4.5M1080.4 373.9h-4.5M1080.4 305.4h-4.5M1080.4 236.9h-4.5M1080.4 168.4h-4.5M1080.4 99.9h-4.5" stroke="#000" stroke-width="1.1" fill="none"/>
<rect x="1080.4" y="41.9" width="443.3" height="419.4" fill="none" stroke="#000" stroke-width="1.25"/>
<text x="1099.4" y="478.8" text-anchor="middle">0</text>
<text x="1149.3" y="478.8" text-anchor="middle">50</text>
<text x="1199.2" y="478.8" text-anchor="middle">100</text>
<text x="1249.1" y="478.8" text-anchor="middle">150</text>
<text x="1299" y="478.8" text-anchor="middle">200</text>
<text x="1348.9" y="478.8" text-anchor="middle">250</text>
<text x="1398.8" y="478.8" text-anchor="middle">300</text>
<text x="1448.7" y="478.8" text-anchor="middle">350</text>
<text x="1498.6" y="478.8" text-anchor="middle">400</text>
<text x="1071.8" y="446.7" text-anchor="end">0.0000</text>
<text x="1071.8" y="378.2" text-anchor="end">0.0005</text>
<text x="1071.8" y="309.7" text-anchor="end">0.0010</text>
<text x="1071.8" y="241.2" text-anchor="end">0.0015</text>
<text x="1071.8" y="172.7" text-anchor="end">0.0020</text>
<text x="1071.8" y="104.2" text-anchor="end">0.0025</text>
<text transform="translate(1302.3 29.8) scale(1.093 1)" text-anchor="middle" font-weight="bold" font-size="14">(c) Policy Clip Fraction</text>
<text x="575.7" y="38.2">1e−5</text>
<text transform="translate(797.1 495.9) scale(1.04 1)" text-anchor="middle" font-size="13.6">Global Training Steps</text>
<rect x="76.7" y="407.9" width="161.8" height="46.5" rx="2.6" fill="#fff" fill-opacity="0.8" stroke="#ccc" stroke-opacity="0.9" stroke-width="1.2"/>
<path d="M83.1 421H111.9" stroke="#AB47BC" stroke-width="2.9" stroke-opacity="0.9"/>
<path d="M83.1 440H111.9" stroke="#42A5F5" stroke-width="2.9" stroke-opacity="0.9"/>
<text transform="translate(121.3 425.3) scale(1.04 1)" font-size="12.4">FIPO</text>
<text transform="translate(121.3 444.3) scale(1.04 1)" font-size="12.4">FIPO w/o filtering</text>
</g></svg>
<svg width="1554" height="282" viewBox="0 500 1554 282" style="position:absolute;left:0;top:500px">
<g font-family="'Liberation Serif', 'Noto Serif CJK SC', serif" font-size="32.6" fill="#000">
<text x="20.65" y="575.5" font-weight="500">图</text>
<text transform="translate(65.94 572.9) scale(0.9591 1)">9:</text>
<text transform="translate(109.34 572.9) scale(1.0613 1)">Qwen2.5-7B-MATH</text>
<text x="410.7" y="575.5" font-weight="500">上</text>
<text transform="translate(455.81 572.9) scale(1.0869 1)">Future-KL</text>
<text x="622.6" y="575.5" font-weight="900" letter-spacing="0.35">过滤机制的消融实验</text>
<text x="926.25" y="573.2" font-weight="500" font-size="27.5">。</text>
<text x="957.6" y="575.5" letter-spacing="0.825" font-weight="500">我们对比了</text>
<text transform="translate(1136.44 572.9) scale(1.1574 1)">FIPO</text>
<text x="1230.5" y="575.5" letter-spacing="1.062" font-weight="500">在有无过滤极端重要</text>
<text x="20.8" y="621.9" font-weight="500">性采样</text>
<text x="116.5" y="621.9" font-weight="500">（</text>
<text transform="translate(149.53 619.3) scale(1.0692 1)">IS</text>
<text x="180.25" y="621.9" font-weight="500">）</text>
<text x="210.4" y="621.9" letter-spacing="0.65" font-weight="500">比率情况下的训练稳定性</text>
<text x="579.75" y="619.6" font-weight="500" font-size="27.5">。</text>
<text transform="translate(608.54 619.3) scale(1.0588 1)">(a)</text>
<text transform="translate(659.91 619.3) scale(1.0876 1)">Future-KL</text>
<text x="822.4" y="621.9" letter-spacing="0.7" font-weight="500">影响权重</text>
<text x="960.5" y="618.8" font-weight="500" font-size="27.5">：</text>
<text x="986" y="621.9" letter-spacing="0.3" font-weight="500">移除极端</text>
<text transform="translate(1129.87 619.3) scale(1.0308 1)">IS</text>
<text x="1170.4" y="621.9" letter-spacing="-1.3" font-weight="500">比率后</text>
<text x="1269.75" y="621.9" font-weight="500">，</text>
<text x="1299.2" y="621.9" letter-spacing="0.8" font-weight="500">权重值域显著更</text>
<text x="20.8" y="668.3" letter-spacing="1.22" font-weight="500">加受限且紧凑</text>
<text x="225.95" y="668.3" font-weight="500">，</text>
<text x="255.2" y="668.3" letter-spacing="0.855" font-weight="500">从而带来更稳定的策略更新</text>
<text x="660.75" y="666" font-weight="500" font-size="27.5">。</text>
<text transform="translate(690.92 665.7) scale(1.0787 1)">(b-c)</text>
<text x="773.5" y="668.3" letter-spacing="1.0" font-weight="500">截断统计量</text>
<text x="942.5" y="665.2" font-weight="500" font-size="27.5">：</text>
<text x="973.3" y="668.3" letter-spacing="-0.1" font-weight="500">极端</text>
<text transform="translate(1052.91 665.7) scale(1.0923 1)">IS</text>
<text x="1096.8" y="668.3" letter-spacing="0.933" font-weight="500">比率会带来不成比例的影响权</text>
<text x="20" y="714.7" font-weight="500">重</text>
<text x="55.25" y="714.7" font-weight="500">，</text>
<text x="81.7" y="714.7" letter-spacing="0.9" font-weight="500">导致更新更加激进</text>
<text x="352.75" y="712.4" font-weight="500" font-size="27.5">。</text>
<text x="377.2" y="714.7" letter-spacing="0.625" font-weight="500">这体现在双截断和策略截断的比例上升</text>
<text x="946" y="714.7" font-weight="500">，</text>
<text x="971.3" y="714.7" letter-spacing="0.483" font-weight="500">当未启用过滤时</text>
<text x="1205.3" y="714.7" font-weight="500">，</text>
<text x="1233.7" y="714.7" letter-spacing="-0.1" font-weight="500">更多</text>
<text transform="translate(1311.4 712.1) scale(1.0681 1)">token</text>
<text x="1399.4" y="714.7" letter-spacing="0.867" font-weight="500">被推离信</text>
<text x="19.9" y="761.1" letter-spacing="1.1" font-weight="500">任区域</text>
<text x="123.2" y="758.8" font-weight="500" font-size="27.5">。</text>
</g></svg>
</body></html>
